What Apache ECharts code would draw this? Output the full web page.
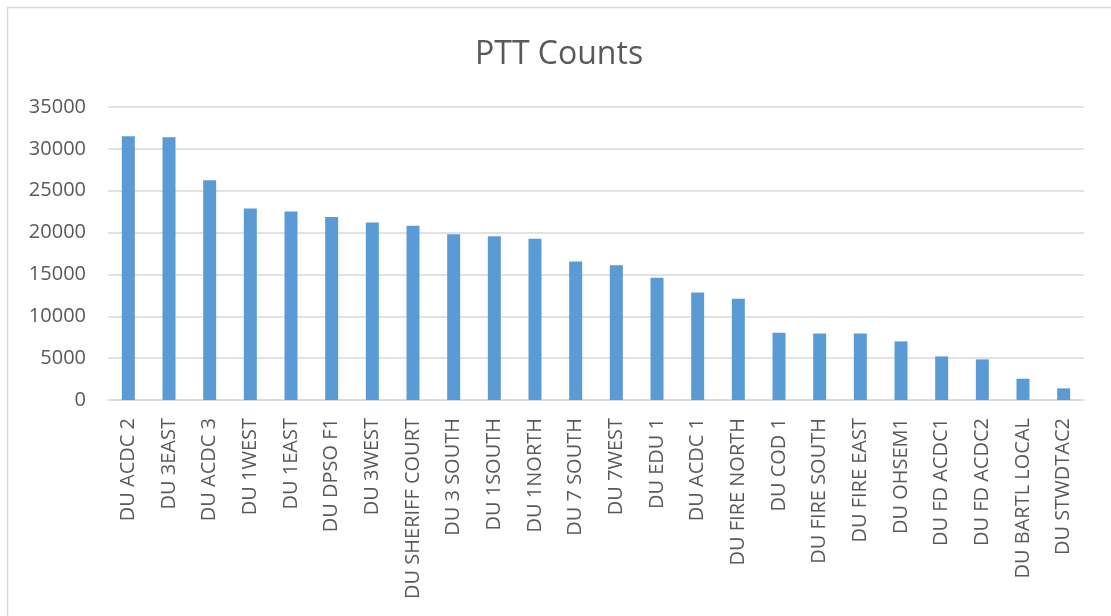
<!DOCTYPE html>
<html>
<head>
<meta charset="utf-8">
<script src="https://cdn.jsdelivr.net/npm/echarts@6/dist/echarts.min.js"></script>
<style>
html,body{margin:0;padding:0;background:#fff;}
#chart{width:1111px;height:616px;}
</style>
</head>
<body>
<div id="chart"></div>
<script>
const categories = ["DU ACDC 2","DU 3EAST","DU ACDC 3","DU 1WEST","DU 1EAST","DU DPSO F1","DU 3WEST","DU SHERIFF COURT","DU 3 SOUTH","DU 1SOUTH","DU 1NORTH","DU 7 SOUTH","DU 7WEST","DU EDU 1","DU ACDC 1","DU FIRE NORTH","DU COD 1","DU FIRE SOUTH","DU FIRE EAST","DU OHSEM1","DU FD ACDC1","DU FD ACDC2","DU BARTL LOCAL","DU STWDTAC2"];
const pttCounts = [31500,31400,26250,22870,22510,21870,21200,20800,19800,19570,19250,16550,16110,14600,12850,12090,8030,7950,7950,7000,5210,4850,2540,1390];
const yTicks = {min:0, max:35000, interval:5000};

const chart = echarts.init(document.getElementById('chart'), null, {renderer:'canvas'});
chart.setOption({
  backgroundColor:'#fff',
  animation:false,
  title:{
    text:'PTT Counts', left:470, top:34,
    textStyle:{fontFamily:'Open Sans', fontSize:32, fontWeight:'normal', color:'#595959'}
  },
  graphic:[{type:'rect', shape:{x:7.5,y:7.5,width:1200,height:700}, style:{fill:'none', stroke:'#d9d9d9', lineWidth:1.5}}],
  grid:{left:108, right:27, top:107, bottom:216, containLabel:false},
  xAxis:{
    type:'category', data:categories,
    axisLine:{lineStyle:{color:'#d9d9d9', width:1.5}},
    axisTick:{show:false},
    axisLabel:{rotate:90, interval:0, margin:18, color:'#595959', fontFamily:'Open Sans', fontSize:20}
  },
  yAxis:{
    type:'value', min:yTicks.min, max:yTicks.max, interval:yTicks.interval,
    axisLine:{show:false}, axisTick:{show:false},
    splitLine:{lineStyle:{color:'#d9d9d9', width:1.5}},
    axisLabel:{margin:22, color:'#595959', fontFamily:'Open Sans', fontSize:20, formatter:function(v){return String(v);}}
  },
  series:[{
    type:'bar', data:pttCounts, barWidth:13,
    itemStyle:{color:'#5b9bd5'}
  }]
});
</script>
</body>
</html>
